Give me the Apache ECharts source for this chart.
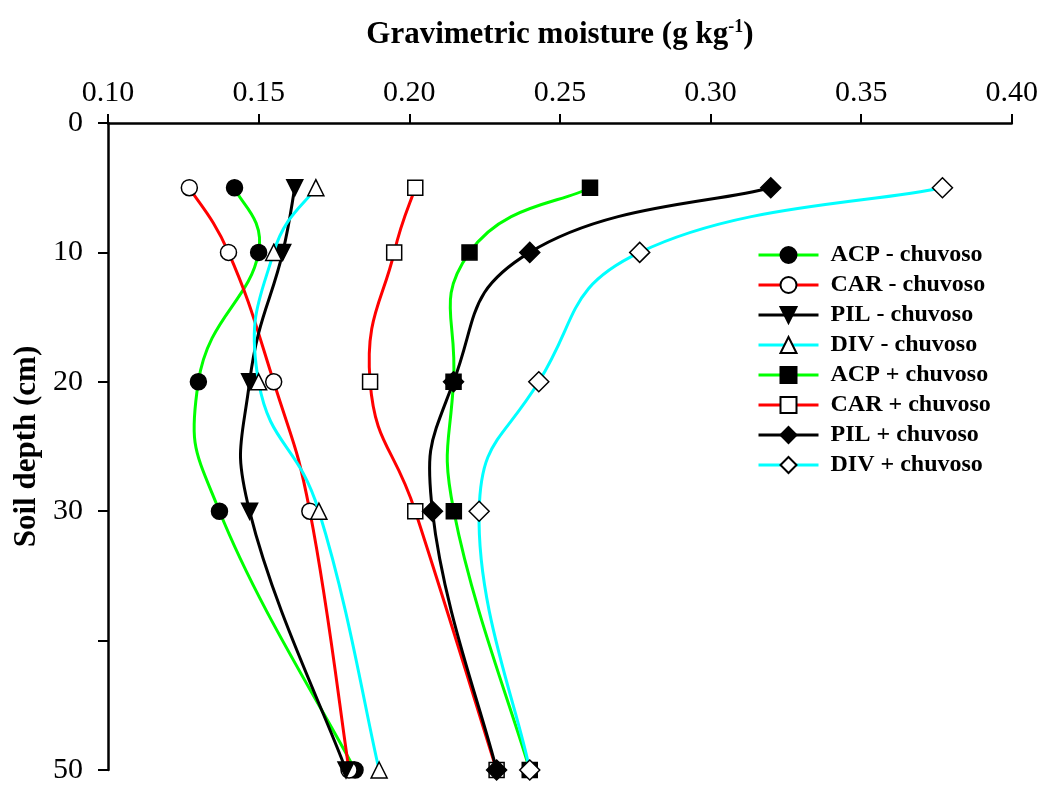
<!DOCTYPE html>
<html>
<head>
<meta charset="utf-8">
<script src="https://cdn.jsdelivr.net/npm/echarts@6/dist/echarts.min.js"></script>
<style>
  html, body { margin: 0; padding: 0; background: #fff; }
  #chart { width: 1041px; height: 785px; }
</style>
</head>
<body>
<div id="chart"></div>
<script>
// soil depths (cm) and gravimetric moisture per treatment
const depths = [5, 10, 20, 30, 50];
const acpDry = [0.142, 0.150, 0.130, 0.137, 0.182];
const carDry = [0.127, 0.140, 0.155, 0.167, 0.180];
const pilDry = [0.162, 0.158, 0.147, 0.147, 0.179];
const divDry = [0.169, 0.155, 0.150, 0.170, 0.190];
const acpWet = [0.260, 0.220, 0.2147, 0.2148, 0.240];
const carWet = [0.202, 0.195, 0.187, 0.202, 0.229];
const pilWet = [0.320, 0.240, 0.2147, 0.2077, 0.229];
const divWet = [0.377, 0.2765, 0.243, 0.2232, 0.240];

const seriesNames = [
  'ACP - chuvoso', 'CAR - chuvoso', 'PIL - chuvoso', 'DIV - chuvoso',
  'ACP + chuvoso', 'CAR + chuvoso', 'PIL + chuvoso', 'DIV + chuvoso'
];
const seriesValues = [acpDry, carDry, pilDry, divDry, acpWet, carWet, pilWet, divWet];

const FONT = '"Liberation Serif", "Times New Roman", serif';
const lineColors = ['#00ff00', '#ff0000', '#000000', '#00ffff'];
const TENSION = 0.25; // spreadsheet-style spline, allowed to overshoot
const MAX_ARM = 0.5; // arm never longer than half of its own segment

// marker per series: [symbol, size, fill, rotate]
const markers = [
  ['circle', 16, '#000', 0],
  ['circle', 16, '#fff', 0],
  ['triangle', 16, '#000', 180],
  ['triangle', 16, '#fff', 0],
  ['rect', 15, '#000', 0],
  ['rect', 15, '#fff', 0],
  ['diamond', 20, '#000', 0],
  ['diamond', 20, '#fff', 0]
];

const chart = echarts.init(document.getElementById('chart'));

// control arm at pts[k], for the segment towards pts[k + dir]
const arm = (pts, k, dir) => {
  const prev = pts[k - 1] || pts[k];
  const next = pts[k + 1] || pts[k];
  const v = [(next[0] - prev[0]) * TENSION, (next[1] - prev[1]) * TENSION];
  const len = Math.hypot(v[0], v[1]);
  const other = pts[k + dir];
  const seg = Math.hypot(other[0] - pts[k][0], other[1] - pts[k][1]);
  const scale = len > seg * MAX_ARM ? (seg * MAX_ARM) / len : 1;
  return [v[0] * scale, v[1] * scale];
};

// smooth curve through the points, drawn once per series from the axis scales
const curveSeries = (values, color, z) => ({
  type: 'custom',
  name: '_curve',
  z,
  clip: false,
  silent: true,
  data: values.map((v, j) => [v, depths[j]]),
  encode: { x: 0, y: 1 },
  renderItem: (params, api) => {
    if (params.dataIndex !== 0) return null;
    const pts = values.map((v, j) => api.coord([v, depths[j]]));
    const children = [];
    for (let k = 0; k < pts.length - 1; k++) {
      const a = arm(pts, k, 1);
      const b = arm(pts, k + 1, -1);
      children.push({
        type: 'bezierCurve',
        shape: {
          x1: pts[k][0], y1: pts[k][1],
          cpx1: pts[k][0] + a[0], cpy1: pts[k][1] + a[1],
          cpx2: pts[k + 1][0] - b[0], cpy2: pts[k + 1][1] - b[1],
          x2: pts[k + 1][0], y2: pts[k + 1][1]
        },
        style: { fill: null, stroke: color, lineWidth: 3, lineCap: 'round' }
      });
    }
    return { type: 'group', children };
  }
});

const series = [];
seriesNames.forEach((name, i) => {
  const [symbol, size, fill, rotate] = markers[i];
  const color = lineColors[i % 4];
  series.push(curveSeries(seriesValues[i], color, 2 + 2 * i));
  series.push({
    name,
    type: 'line',
    clip: false,
    data: seriesValues[i].map((v, j) => [v, depths[j]]),
    symbol,
    symbolSize: size,
    symbolRotate: rotate,
    showAllSymbol: true,
    lineStyle: { color, width: 3, opacity: 0 },
    itemStyle: { color: fill, borderColor: '#000', borderWidth: 1.5 },
    emphasis: { disabled: true },
    z: 3 + 2 * i
  });
});

chart.setOption({
  animation: false,
  backgroundColor: '#fff',
  grid: { left: 108, right: 29, top: 123, bottom: 10, containLabel: false },
  legend: {
    orient: 'vertical',
    left: 757,
    top: 243,
    padding: 0,
    itemWidth: 60,
    itemHeight: 20,
    itemGap: 6,
    data: seriesNames.map((name, i) => ({
      name,
      lineStyle: { color: lineColors[i % 4], width: 3, opacity: 1 }
    })),
    textStyle: {
      fontFamily: FONT,
      fontWeight: 'bold',
      fontSize: 24,
      color: '#000',
      lineHeight: 21,
      padding: [0, 0, 0, 7]
    }
  },
  xAxis: {
    type: 'value',
    position: 'top',
    min: 0.10,
    max: 0.40,
    interval: 0.05,
    name: 'Gravimetric moisture (g kg{sup|-1})',
    nameLocation: 'middle',
    nameGap: 71,
    nameTextStyle: {
      fontFamily: FONT,
      fontWeight: 'bold',
      fontSize: 31,
      color: '#000',
      rich: {
        sup: { fontFamily: FONT, fontWeight: 'bold', fontSize: 18, color: '#000', verticalAlign: 'top', padding: [0, 0, 16, 0] }
      }
    },
    axisLine: { show: true, lineStyle: { color: '#000', width: 2.5 } },
    axisTick: { show: true, inside: false, length: 9, lineStyle: { color: '#000', width: 2 } },
    axisLabel: {
      fontFamily: FONT,
      fontSize: 30,
      color: '#000',
      margin: 15,
      formatter: (v) => v.toFixed(2)
    },
    splitLine: { show: false }
  },
  yAxis: {
    type: 'value',
    inverse: true,
    min: 0,
    max: 50,
    interval: 10,
    name: 'Soil depth (cm)',
    nameLocation: 'middle',
    nameGap: 62,
    nameTextStyle: { fontFamily: FONT, fontWeight: 'bold', fontSize: 31, color: '#000' },
    axisLine: { show: true, lineStyle: { color: '#000', width: 2.5 } },
    axisTick: { show: true, inside: false, length: 10, lineStyle: { color: '#000', width: 2 } },
    axisLabel: {
      fontFamily: FONT,
      fontSize: 30,
      color: '#000',
      margin: 25,
      formatter: (v) => (v === 40 ? '' : String(v))
    },
    splitLine: { show: false }
  },
  series
});
</script>
</body>
</html>
